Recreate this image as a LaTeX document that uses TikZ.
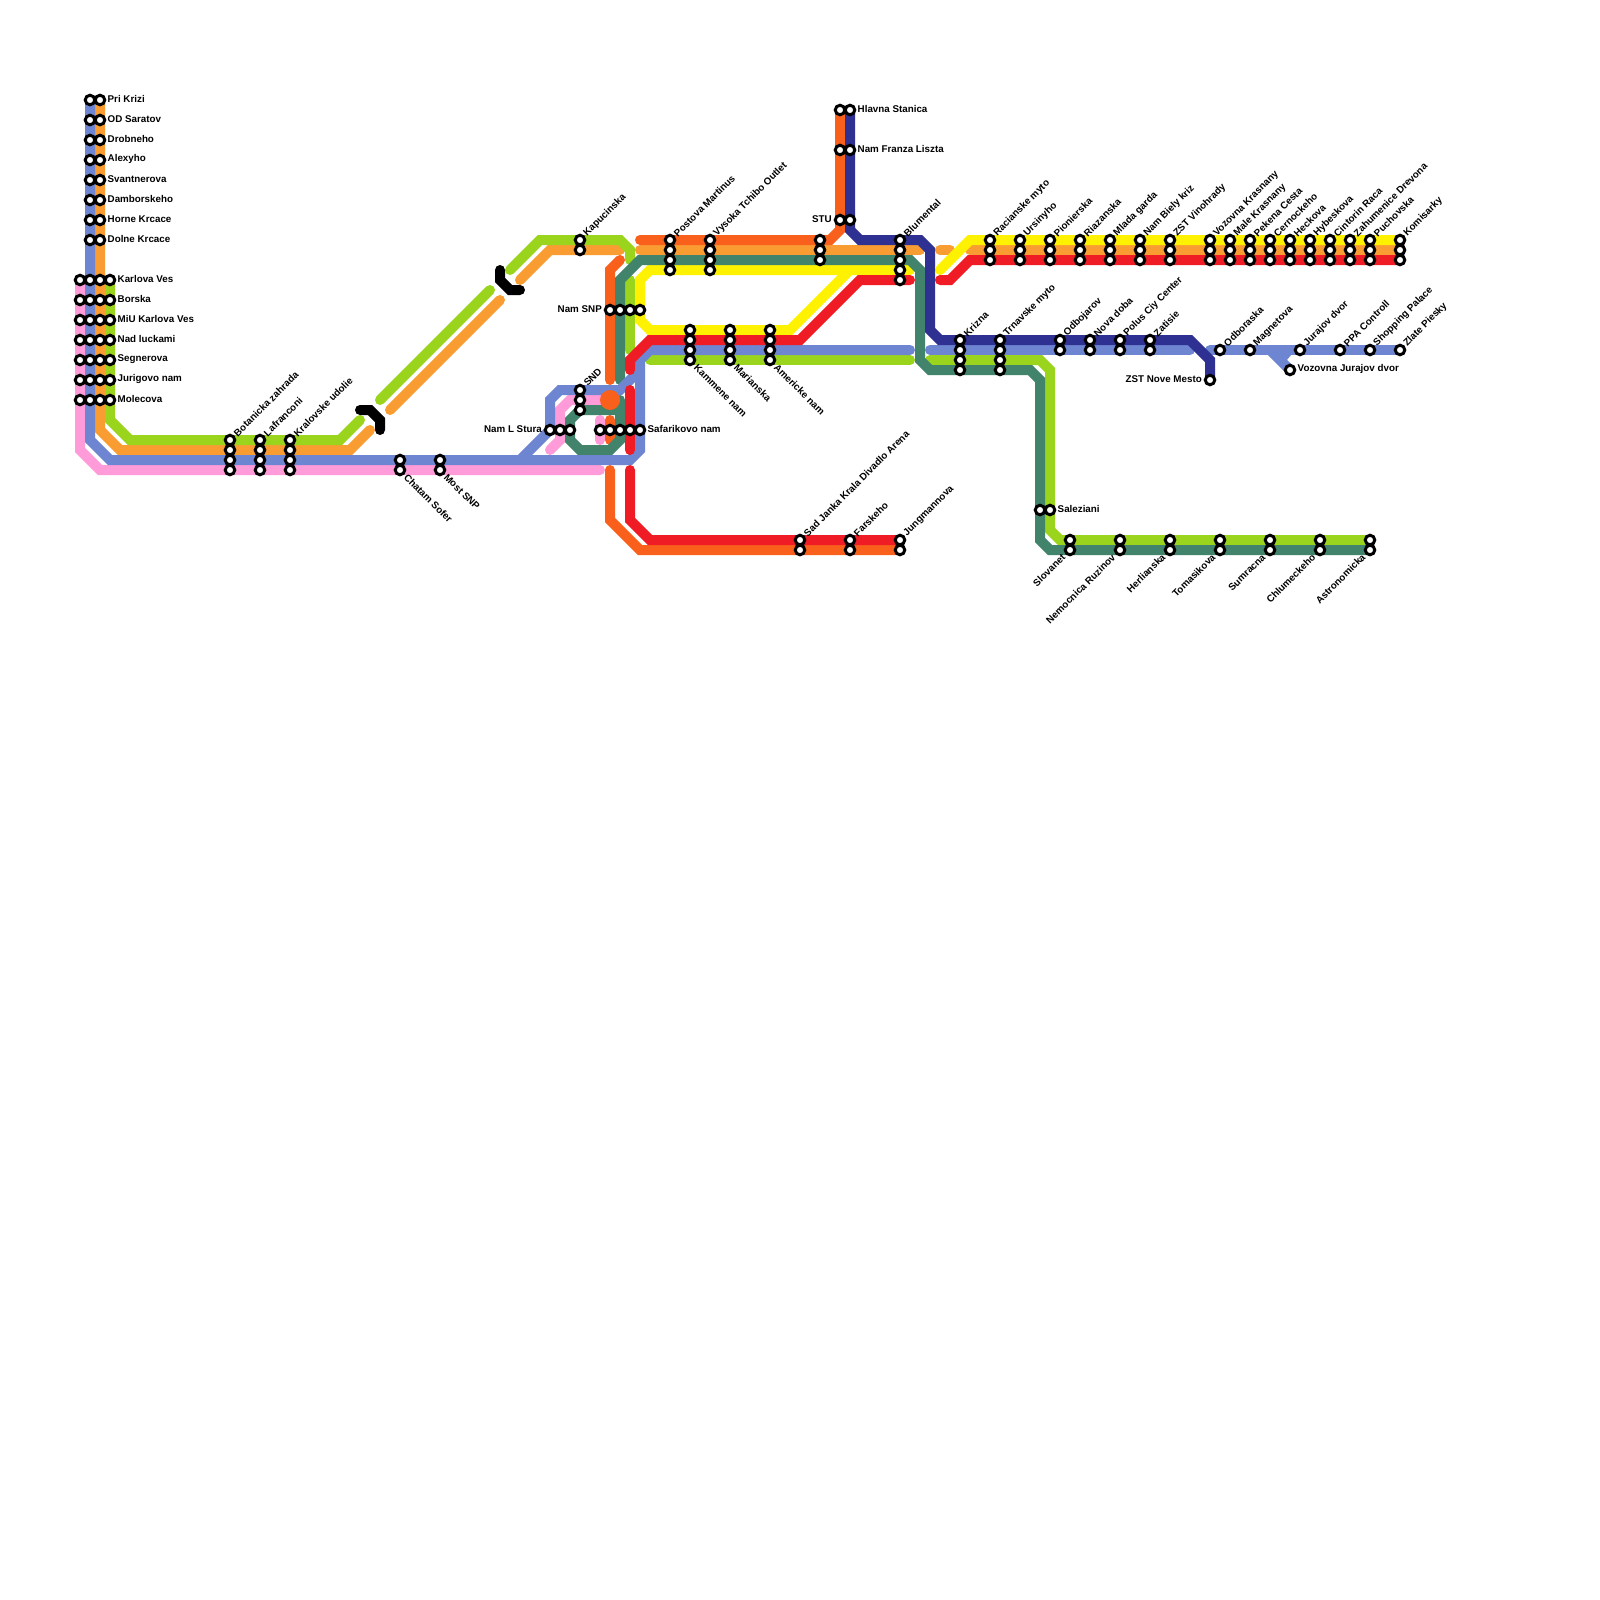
\documentclass[tikz,border=0pt]{standalone}
\usepackage{fontspec}
\setmainfont{Liberation Sans}
\definecolor{cblue}{HTML}{6E86D1}
\definecolor{corange}{HTML}{F99D33}
\definecolor{clime}{HTML}{9AD41C}
\definecolor{cpink}{HTML}{FF9BD8}
\definecolor{cteal}{HTML}{41836B}
\definecolor{cdorange}{HTML}{F9601C}
\definecolor{cred}{HTML}{EF1C26}
\definecolor{cyellow}{HTML}{FFF200}
\definecolor{cnavy}{HTML}{2E3192}
\tikzset{
  metro/.style={line width=10pt,line cap=round,line join=miter,miter limit=4},
  stn/.style={circle,draw=black,fill=white,line width=3pt,outer sep=0pt,minimum size=9.5pt,inner sep=0pt},
  lab/.style={font=\bfseries\fontsize{9.8}{11}\selectfont,text=black,inner sep=0pt},
  lblE/.style={lab,anchor=west,xshift=7.5pt,yshift=1pt},
  lblW/.style={lab,anchor=east,xshift=-8pt,yshift=1pt},
  lblNE/.style={lab,anchor=west,rotate=45,xshift=7.5pt,yshift=0pt},
  lblSE/.style={lab,anchor=west,rotate=-45,xshift=8pt,yshift=0pt},
  lblSW/.style={lab,anchor=east,rotate=45,xshift=-8.5pt,yshift=0.5pt}
}
\begin{document}
\begin{tikzpicture}[x=1pt,y=-1pt]
\useasboundingbox (0,0) rectangle (1600,1600);
\fill[white] (0,0) rectangle (1600,1600);
% pink
\draw[metro,cpink] (80,280) -- (80,450) -- (100,470) -- (600,470);
\draw[metro,cpink] (550,450) -- (560,440) -- (560,410) -- (570,400) -- (610,400);
\draw[metro,cpink] (600,420) -- (600,440);
% orange
\draw[metro,corange] (100,100) -- (100,430) -- (120,450) -- (350,450) -- (370,430);
\draw[metro,corange] (390,410) -- (500,300);
\draw[metro,corange] (520,280) -- (550,250) -- (620,250);
\draw[metro,corange] (640,250) -- (920,250);
\draw[metro,corange] (940,250) -- (950,250);
\draw[metro,corange] (970,250) -- (1400,250);
% lime
\draw[metro,clime] (110,280) -- (110,420) -- (130,440) -- (340,440) -- (360,420);
\draw[metro,clime] (380,400) -- (490,290);
\draw[metro,clime] (510,270) -- (540,240) -- (620,240) -- (630,250) -- (630,260);
\draw[metro,clime] (630,280) -- (630,350);
\draw[metro,clime] (650,360) -- (910,360);
\draw[metro,clime] (930,360) -- (1040,360) -- (1050,370) -- (1050,530) -- (1060,540) -- (1370,540);
% yellow
\draw[metro,cyellow] (910,270) -- (650,270) -- (640,280) -- (640,320) -- (650,330) -- (790,330) -- (850,270);
\draw[metro,cyellow] (940,270) -- (970,240) -- (1400,240);
% dark orange
\draw[metro,cdorange] (610,380) -- (610,270) -- (620,260);
\draw[metro,cdorange] (640,240) -- (830,240) -- (840,230) -- (840,110);
\draw[metro,cdorange] (610,470) -- (610,520) -- (640,550) -- (900,550);
\draw[metro,cdorange] (610,420) -- (610,440);
% teal
\draw[metro,cteal] (620,380) -- (620,280) -- (640,260) -- (910,260) -- (920,270) -- (920,360) -- (930,370) -- (1030,370) -- (1040,380) -- (1040,540) -- (1050,550) -- (1370,550);
\draw[metro,cteal] (620,400) -- (620,440) -- (610,450) -- (580,450) -- (570,440) -- (570,420) -- (580,410) -- (620,410);
% blue
\draw[metro,cblue] (90,100) -- (90,440) -- (110,460) -- (630,460) -- (640,450) -- (640,360) -- (650,350) -- (910,350);
\draw[metro,cblue] (520,460) -- (550,430) -- (550,400) -- (560,390) -- (620,390) -- (640,370);
\draw[metro,cblue] (930,350) -- (1190,350);
\draw[metro,cblue] (1210,350) -- (1400,350);
\draw[metro,cblue] (1270,350) -- (1290,370);
\fill[cblue] (1278,354) -- (1292,354) -- (1286,361) -- cycle;
% red
\draw[metro,cred] (630,370) -- (630,360) -- (650,340) -- (800,340) -- (860,280) -- (910,280);
\draw[metro,cred] (630,390) -- (630,450);
\draw[metro,cred] (630,470) -- (630,520) -- (650,540) -- (900,540);
\draw[metro,cred] (940,280) -- (950,280) -- (970,260) -- (1400,260);
% navy
\draw[metro,cnavy] (850,110) -- (850,230) -- (860,240) -- (920,240) -- (930,250) -- (930,330) -- (940,340) -- (1190,340) -- (1210,360) -- (1210,380);
% break marks
\draw[metro,black] (360,410) -- (370,410) -- (380,420) -- (380,430);
\draw[metro,black] (500,270) -- (500,280) -- (510,290) -- (520,290);
% interchange disc
\fill[cdorange] (610,400) circle (10);
% stations
\foreach \sx in {90,100} \foreach \sy in {100,120,...,240} \node[stn] (s\sx-\sy) at (\sx,\sy) {};
\foreach \sx in {80,90,100,110} \foreach \sy in {280,300,...,400} \node[stn] (s\sx-\sy) at (\sx,\sy) {};
\foreach \sx in {230,260,290} \foreach \sy in {440,450,460,470} \node[stn] (s\sx-\sy) at (\sx,\sy) {};
\foreach \sx in {400,440} \foreach \sy in {460,470} \node[stn] (s\sx-\sy) at (\sx,\sy) {};
\foreach \sy in {240,250} \node[stn] (s580-\sy) at (580,\sy) {};
\foreach \sx in {610,620,630,640} \node[stn] (s\sx-310) at (\sx,310) {};
\foreach \sy in {390,400,410} \node[stn] (s580-\sy) at (580,\sy) {};
\foreach \sx in {550,560,570,600,610,620,630,640} \node[stn] (s\sx-430) at (\sx,430) {};
\foreach \sx in {670,710} \foreach \sy in {240,250,260,270} \node[stn] (s\sx-\sy) at (\sx,\sy) {};
\foreach \sy in {240,250,260} \node[stn] (s820-\sy) at (820,\sy) {};
\foreach \sx in {840,850} \foreach \sy in {110,150,220} \node[stn] (s\sx-\sy) at (\sx,\sy) {};
\foreach \sy in {240,250,260,270,280} \node[stn] (s900-\sy) at (900,\sy) {};
\foreach \sx in {690,730,770} \foreach \sy in {330,340,350,360} \node[stn] (s\sx-\sy) at (\sx,\sy) {};
\foreach \sx in {960,1000} \foreach \sy in {340,350,360,370} \node[stn] (s\sx-\sy) at (\sx,\sy) {};
\foreach \sx in {1060,1090,1120,1150} \foreach \sy in {340,350} \node[stn] (s\sx-\sy) at (\sx,\sy) {};
\node[stn] (s1210-380) at (1210,380) {};
\foreach \sx in {990,1020,1050,1080,1110,1140,1170,1210,1230,1250,1270,1290,1310,1330,1350,1370,1400} \foreach \sy in {240,250,260} \node[stn] (s\sx-\sy) at (\sx,\sy) {};
\foreach \sx in {1220,1250,1300,1340,1370,1400} \node[stn] (s\sx-350) at (\sx,350) {};
\node[stn] (s1290-370) at (1290,370) {};
\foreach \sx in {1040,1050} \node[stn] (s\sx-510) at (\sx,510) {};
\foreach \sx in {1070,1120,1170,1220,1270,1320,1370,800,850,900} \foreach \sy in {540,550} \node[stn] (s\sx-\sy) at (\sx,\sy) {};
% labels east
\foreach \sx/\sy/\txt in {100/100/Pri Krizi,100/120/OD Saratov,100/140/Drobneho,100/160/Alexyho,100/180/Svantnerova,100/200/Damborskeho,100/220/Horne Krcace,100/240/Dolne Krcace,110/280/Karlova Ves,110/300/Borska,110/320/MiU Karlova Ves,110/340/Nad luckami,110/360/Segnerova,110/380/Jurigovo nam,110/400/Molecova,850/110/Hlavna Stanica,850/150/Nam Franza Liszta,640/430/Safarikovo nam,1050/510/Saleziani,1290/370/Vozovna Jurajov dvor}
  \node[lblE] (e\sx-\sy) at (\sx,\sy) {\txt};
% labels west
\foreach \sx/\sy/\txt in {840/220/STU,610/310/Nam SNP,550/430/Nam L Stura,1210/380/ZST Nove Mesto}
  \node[lblW] (w\sx-\sy) at (\sx,\sy) {\txt};
% labels north-east
\foreach \sx/\sy/\txt in {230/440/Botanicka zahrada,260/440/Lafranconi,290/440/Kralovske udolie,580/240/Kapucinska,580/390/SND,670/240/Postova Martinus,710/240/Vysoka Tchibo Outlet,900/240/Blumental,960/340/Krizna,1000/340/Trnavske myto,1060/340/Odbojarov,1090/340/Nova doba,1120/340/Polus Ciy Center,1150/340/Zatisie,990/240/Racianske myto,1020/240/Ursinyho,1050/240/Pionierska,1080/240/Riazanska,1110/240/Mlada garda,1140/240/Nam Biely kriz,1170/240/ZST Vinohrady,1210/240/Vozovna Krasnany,1230/240/Male Krasnany,1250/240/Pekena Cesta,1270/240/Cernockeho,1290/240/Heckova,1310/240/Hybeskova,1330/240/Cintorin Raca,1350/240/Zahumenice Drevona,1370/240/Puchovska,1400/240/Komisarky,1220/350/Odboraska,1250/350/Magnetova,1300/350/Jurajov dvor,1340/350/PPA Controll,1370/350/Shopping Palace,1400/350/Zlate Piesky,800/540/Sad Janka Krala Divadlo Arena,850/540/Farskeho,900/540/Jungmannova}
  \node[lblNE] (n\sx-\sy) at (\sx,\sy) {\txt};
% labels south-east
\foreach \sx/\sy/\txt in {400/470/Chatam Sofer,440/470/Most SNP,690/360/Kammene nam,730/360/Marianska,770/360/Americke nam}
  \node[lblSE] (d\sx-\sy) at (\sx,\sy) {\txt};
% labels south-west
\foreach \sx/\sy/\txt in {1070/550/Slovanet,1120/550/Nemocnica Ruzinov,1170/550/Herlianska,1220/550/Tomasikova,1270/550/Sumracna,1320/550/Chlumeckeho,1370/550/Astronomicka}
  \node[lblSW] (b\sx-\sy) at (\sx,\sy) {\txt};
\end{tikzpicture}
\end{document}
